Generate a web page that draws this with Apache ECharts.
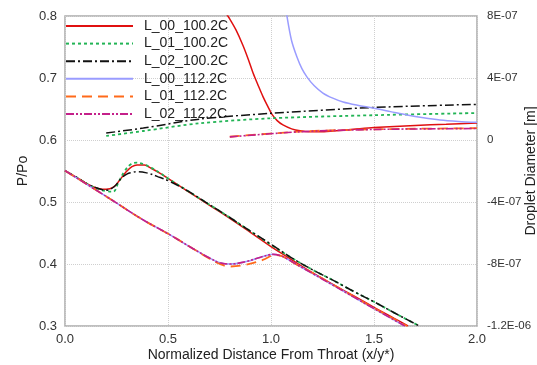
<!DOCTYPE html>
<html><head><meta charset="utf-8">
<script src="https://cdn.jsdelivr.net/npm/echarts@6/dist/echarts.min.js"></script>
<style>html,body{margin:0;padding:0;background:#fff}#c{width:537px;height:365px}</style>
</head><body><div id="c"></div>
<script>
// Series names (legend)
const names = ['L_00_100.2C','L_01_100.2C','L_02_100.2C','L_00_112.2C','L_01_112.2C','L_02_112.2C'];

// Pressure ratio P/Po (left axis)
const pL00_100_x = [0,0.06,0.12,0.17,0.2,0.235,0.265,0.295,0.325,0.35,0.385,0.42,0.46,0.5,0.6,0.7,0.8,0.9,1.0,1.09,1.17,1.3,1.4,1.5,1.6,1.665];
const pL00_100_y = [0.5505,0.539,0.527,0.521,0.5205,0.524,0.535,0.548,0.557,0.5597,0.5595,0.554,0.5465,0.538,0.5165,0.495,0.4735,0.451,0.428,0.409,0.392,0.367,0.349,0.330,0.312,0.300];
const pL01_100_x = [0,0.06,0.12,0.17,0.2,0.233,0.26,0.29,0.32,0.348,0.38,0.42,0.46,0.5,0.6,0.7,0.8,0.9,1.0,1.09,1.2,1.3,1.4,1.5,1.6,1.72];
const pL01_100_y = [0.5505,0.539,0.527,0.520,0.5175,0.5167,0.532,0.550,0.561,0.5634,0.561,0.555,0.547,0.538,0.517,0.496,0.475,0.453,0.431,0.412,0.391,0.374,0.356,0.339,0.321,0.300];
const pL02_100_x = [0,0.06,0.12,0.17,0.2,0.24,0.27,0.3,0.33,0.35,0.396,0.45,0.51,0.6,0.7,0.8,0.9,1.0,1.09,1.2,1.3,1.4,1.5,1.6,1.72];
const pL02_100_y = [0.5505,0.539,0.527,0.521,0.519,0.525,0.537,0.545,0.548,0.549,0.547,0.541,0.533,0.517,0.496,0.475,0.453,0.432,0.412,0.391,0.374,0.356,0.339,0.321,0.300];
const pL00_112_x = [0,0.2,0.38,0.51,0.62,0.70,0.752,0.80,0.88,0.95,1.01,1.05,1.08,1.12,1.2,1.3,1.4,1.5,1.65];
const pL00_112_y = [0.5505,0.509,0.471,0.447,0.425,0.410,0.402,0.400,0.404,0.411,0.4156,0.413,0.408,0.400,0.385,0.366,0.347,0.328,0.300];
const pL01_112_x = [0,0.2,0.38,0.51,0.62,0.70,0.752,0.80,0.88,0.96,1.02,1.05,1.08,1.12,1.2,1.3,1.4,1.5,1.66];
const pL01_112_y = [0.5505,0.509,0.471,0.447,0.425,0.409,0.400,0.396,0.399,0.4065,0.4145,0.413,0.408,0.400,0.386,0.367,0.348,0.329,0.300];
const pL02_112_x = pL00_112_x;
const pL02_112_y = [0.5505,0.509,0.471,0.447,0.425,0.410,0.402,0.400,0.404,0.411,0.4155,0.413,0.408,0.400,0.385,0.366,0.347,0.328,0.300];

// Droplet diameter [m] (right axis)
const dL00_100_x = [0.2,0.6,0.7,0.75,0.78,0.80,0.83,0.864,0.89,0.913,0.94,0.961,0.985,1.005,1.03,1.058,1.1,1.141,1.19,1.238,1.3,1.4,1.5,1.7,1.85,2.0];
const dL00_100_y = [9.6e-7,9.3e-7,9.0e-7,8.6e-7,8.2e-7,7.8e-7,7.1e-7,6.1e-7,5.2e-7,4.32e-7,3.45e-7,2.8e-7,2.15e-7,1.65e-7,1.25e-7,9.7e-8,7.2e-8,5.9e-8,5.3e-8,5.3e-8,5.8e-8,6.9e-8,8.0e-8,9.4e-8,1.02e-7,1.1e-7];
const dL01_100_x = [0.2,0.38,0.655,1.0,1.5,2.0];
const dL01_100_y = [2.6e-8,5.8e-8,1.08e-7,1.4e-7,1.6e-7,1.74e-7];
const dL02_100_x = [0.2,0.38,0.655,1.0,1.5,2.0];
const dL02_100_y = [4.5e-8,7.7e-8,1.35e-7,1.72e-7,2.1e-7,2.3e-7];
const dL00_112_x = [1.03,1.05,1.065,1.078,1.1,1.126,1.15,1.175,1.21,1.252,1.3,1.35,1.42,1.495,1.58,1.66,1.74,1.82,1.91,2.0];
const dL00_112_y = [1.4e-6,1.1e-6,9.2e-7,7.94e-7,6.4e-7,5.35e-7,4.6e-7,4.06e-7,3.5e-7,3.03e-7,2.7e-7,2.45e-7,2.24e-7,2.06e-7,1.83e-7,1.61e-7,1.43e-7,1.29e-7,1.2e-7,1.14e-7];
const dL01_112_x = [0.8,1.14,1.5,2.0];
const dL01_112_y = [2.1e-8,5.4e-8,6.9e-8,7.6e-8];
const dL02_112_x = [0.8,1.14,1.5,2.0];
const dL02_112_y = [2.0e-8,5.3e-8,6.8e-8,7.4e-8];

const colors = ['#e01010','#22b455','#111111','#9a9cff','#ff6a1a','#c4208a'];
const dashes = ['solid',[3,3],[9,3,2,3],'solid',[10,6],[8,2,2,2,2,2]];
const widths = [1.5,1.8,1.5,1.5,1.8,1.6];

const pX=[pL00_100_x,pL01_100_x,pL02_100_x,pL00_112_x,pL01_112_x,pL02_112_x];
const pY=[pL00_100_y,pL01_100_y,pL02_100_y,pL00_112_y,pL01_112_y,pL02_112_y];
const dX=[dL00_100_x,dL01_100_x,dL02_100_x,dL00_112_x,dL01_112_x,dL02_112_x];
const dY=[dL00_100_y,dL01_100_y,dL02_100_y,dL00_112_y,dL01_112_y,dL02_112_y];

const zip=(xs,ys)=>xs.map((x,i)=>[x,ys[i]]);
const series=[];
for(const i of [0,1,2,3,4,5]){
  series.push({name:names[i],type:'line',yAxisIndex:0,data:zip(pX[i],pY[i]),smooth:0.4,showSymbol:false,symbol:'none',
    lineStyle:{color:colors[i],width:widths[i],type:dashes[i]},itemStyle:{color:colors[i]},z:3+i,silent:true,animation:false});
}
for(const i of [0,1,2,3,4,5]){
  series.push({name:names[i],type:'line',yAxisIndex:1,data:zip(dX[i],dY[i]),smooth:0.3,showSymbol:false,symbol:'none',clip:true,
    lineStyle:{color:colors[i],width:widths[i],type:dashes[i]},itemStyle:{color:colors[i]},z:3+i,silent:true,animation:false});
}

function sci(v){
  if(Math.abs(v)<1e-15) return '0';
  const s=Number(v.toPrecision(6)).toExponential();
  const m=s.split('e');
  let ex=parseInt(m[1],10);
  const sign=ex<0?'-':'+';
  ex=Math.abs(ex);
  return m[0]+'E'+sign+(ex<10?'0':'')+ex;
}

const font='Liberation Sans';
const chart=echarts.init(document.getElementById('c'),null,{renderer:'canvas'});
chart.setOption({
  animation:false,
  backgroundColor:'#fff',
  textStyle:{fontFamily:font},
  grid:{left:65,right:60,top:16,bottom:39,show:true,borderColor:'#aaaaaa',borderWidth:1.5,containLabel:false,outerBoundsMode:'none'},
  legend:{data:names,left:65,top:19,orient:'vertical',padding:0,itemGap:3.6,itemWidth:67,itemHeight:14,
    itemStyle:{opacity:0},
    textStyle:{fontFamily:font,fontSize:14,color:'#222',padding:[0,0,0,6]},selectedMode:false},
  xAxis:{type:'value',min:0,max:2,interval:0.5,
    name:'Normalized Distance From Throat (x/y*)',nameLocation:'middle',nameGap:22,nameMoveOverlap:false,
    nameTextStyle:{fontFamily:font,fontSize:14,color:'#222'},
    axisLine:{show:false},axisTick:{show:false},
    axisLabel:{fontFamily:font,fontSize:13,color:'#333',margin:7,formatter:v=>v.toFixed(1)},
    splitLine:{show:true,lineStyle:{color:'#cfcfcf',type:'dotted',width:1}}},
  yAxis:[
    {type:'value',min:0.3,max:0.8,interval:0.1,position:'left',
     name:'P/Po',nameLocation:'middle',nameGap:35,nameMoveOverlap:false,nameTextStyle:{fontFamily:font,fontSize:14,color:'#222'},
     axisLine:{show:false},axisTick:{show:false},
     axisLabel:{fontFamily:font,fontSize:13,color:'#333',margin:8,formatter:v=>(Math.round(v*10)/10).toFixed(1)},
     splitLine:{show:true,lineStyle:{color:'#cfcfcf',type:'dotted',width:1}}},
    {type:'value',min:-1.2e-6,max:8e-7,interval:4e-7,position:'right',
     name:'Droplet Diameter [m]',nameLocation:'middle',nameGap:47,nameRotate:90,nameMoveOverlap:false,nameTextStyle:{fontFamily:font,fontSize:14,color:'#222'},
     axisLine:{show:false},axisTick:{show:false},
     axisLabel:{fontFamily:font,fontSize:11.5,color:'#333',margin:10,formatter:sci},
     splitLine:{show:false}}
  ],
  series:series
});
</script></body></html>
